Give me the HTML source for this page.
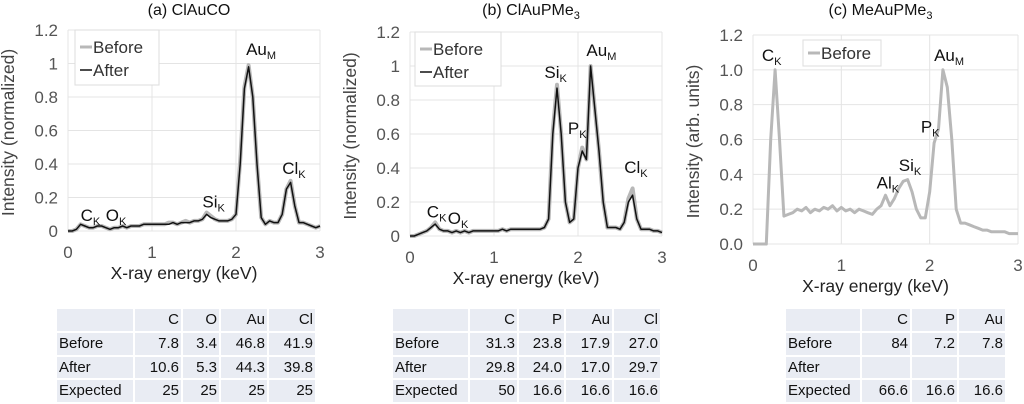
<!DOCTYPE html>
<html><head><meta charset="utf-8">
<style>
body{margin:0;width:1024px;height:404px;background:#fff;font-family:"Liberation Sans",sans-serif;overflow:hidden;position:relative}
svg{position:absolute;left:0;top:0}
.cell{position:absolute;background:#e9ecf3;font-size:15px;color:#111;line-height:21px;box-sizing:border-box;padding:0 2px;text-align:right;white-space:nowrap}
.lbl{text-align:left}
</style></head><body>
<svg id="chart" width="1024" height="300"></svg>
<div id="tables"></div>
<script>
const energies=[0,0.05,0.1,0.15,0.2,0.25,0.3,0.35,0.4,0.45,0.5,0.55,0.6,0.65,0.7,0.75,0.8,0.85,0.9,0.95,1.0,1.05,1.1,1.15,1.2,1.25,1.3,1.35,1.4,1.45,1.5,1.55,1.6,1.65,1.7,1.75,1.8,1.85,1.9,1.95,2.0,2.05,2.1,2.15,2.2,2.25,2.3,2.35,2.4,2.45,2.5,2.55,2.6,2.65,2.7,2.75,2.8,2.85,2.9,2.95,3.0];
const aBefore=[0,0,0.01,0.04,0.03,0.02,0.02,0.03,0.03,0.02,0.01,0.02,0.02,0.03,0.02,0.03,0.03,0.03,0.04,0.04,0.04,0.04,0.04,0.04,0.05,0.05,0.04,0.05,0.06,0.05,0.06,0.06,0.07,0.11,0.09,0.07,0.06,0.06,0.06,0.07,0.1,0.42,0.86,0.99,0.8,0.4,0.08,0.04,0.06,0.05,0.05,0.1,0.25,0.3,0.15,0.05,0.05,0.04,0.03,0.02,0.03];
const aAfter=[0,0,0.01,0.04,0.03,0.02,0.02,0.03,0.03,0.02,0.01,0.02,0.02,0.03,0.02,0.03,0.03,0.03,0.04,0.04,0.04,0.04,0.04,0.04,0.04,0.05,0.04,0.05,0.05,0.05,0.06,0.06,0.07,0.1,0.08,0.07,0.06,0.06,0.06,0.07,0.1,0.4,0.85,0.98,0.8,0.4,0.08,0.04,0.06,0.05,0.05,0.1,0.25,0.29,0.15,0.05,0.05,0.04,0.03,0.02,0.03];
const bBefore=[0,0,0.01,0.02,0.03,0.05,0.08,0.04,0.03,0.03,0.02,0.03,0.02,0.03,0.02,0.03,0.03,0.03,0.03,0.03,0.03,0.03,0.04,0.03,0.04,0.04,0.04,0.04,0.04,0.04,0.04,0.04,0.05,0.1,0.62,0.89,0.6,0.2,0.08,0.1,0.4,0.52,0.45,1.0,0.75,0.5,0.2,0.05,0.05,0.05,0.04,0.08,0.22,0.28,0.1,0.04,0.04,0.04,0.03,0.03,0.02];
const bAfter=[0,0,0.01,0.02,0.03,0.05,0.07,0.04,0.03,0.03,0.02,0.03,0.02,0.03,0.02,0.03,0.03,0.03,0.03,0.03,0.03,0.03,0.04,0.03,0.04,0.04,0.04,0.04,0.04,0.04,0.04,0.04,0.05,0.1,0.6,0.87,0.6,0.2,0.08,0.1,0.4,0.5,0.45,1.0,0.75,0.5,0.2,0.05,0.05,0.05,0.04,0.08,0.2,0.24,0.1,0.04,0.04,0.04,0.03,0.03,0.02];
const cBefore=[0,0,0,0,0.6,1.0,0.6,0.16,0.17,0.18,0.2,0.19,0.21,0.18,0.2,0.19,0.21,0.2,0.22,0.19,0.21,0.19,0.2,0.18,0.2,0.19,0.18,0.17,0.2,0.22,0.28,0.22,0.26,0.32,0.36,0.37,0.3,0.2,0.15,0.15,0.3,0.58,0.66,1.0,0.9,0.6,0.2,0.12,0.12,0.11,0.1,0.09,0.08,0.08,0.07,0.07,0.07,0.07,0.06,0.06,0.06];
const yTicksAB=["0","0.2","0.4","0.6","0.8","1","1.2"];
const yTicksC=["0.0","0.2","0.4","0.6","0.8","1.0","1.2"];
const xTicks=["0","1","2","3"];

const NS="http://www.w3.org/2000/svg";
const svg=document.getElementById('chart');
function mk(tag,attrs,parent){const e=document.createElementNS(NS,tag);for(const k in attrs)e.setAttribute(k,attrs[k]);(parent||svg).appendChild(e);return e;}

const charts=[
 {id:'a',x0:68,x1:320,y0:231,y1:30,title:'(a) ClAuCO',ytitle:'Intensity (normalized)',yt:yTicksAB,series:[[aBefore,'#b8b8b8',4,'before'],[aAfter,'#111',1.5,'after']],legend:[75,30,84,55,true],
  ann:[['C','K',0.15,0.06],['O','K',0.45,0.06],['Si','K',1.6,0.14],['Au','M',2.12,1.05],['Cl','K',2.55,0.34]]},
 {id:'b',x0:410,x1:662,y0:236,y1:32,title:'(b) ClAuPMe',sub:'3',ytitle:'Intensity (normalized)',yt:yTicksAB,series:[[bBefore,'#b8b8b8',4,'before'],[bAfter,'#111',1.5,'after']],legend:[415,32,86,54,true],
  ann:[['C','K',0.2,0.11],['O','K',0.45,0.07],['Si','K',1.6,0.93],['P','K',1.88,0.6],['Au','M',2.1,1.06],['Cl','K',2.55,0.37]]},
 {id:'c',x0:753,x1:1018,y0:244,y1:35,title:'(c) MeAuPMe',sub:'3',ytitle:'Intensity (arb. units)',yt:yTicksC,series:[[cBefore,'#b8b8b8',3,'before']],legend:[803,40,78,26,false],
  ann:[['C','K',0.1,1.05],['Al','K',1.4,0.32],['Si','K',1.65,0.42],['P','K',1.9,0.64],['Au','M',2.05,1.05]]}
];
charts.forEach(c=>{
  const g=mk('g',{});
  
  
  const X=v=>c.x0+(c.x1-c.x0)*v/3, Y=v=>c.y0+(c.y1-c.y0)*v/1.2;
  c.yt.forEach((t,i)=>{const v=i*0.2;
    const l=mk('line',{x1:c.x0,x2:c.x1,y1:Y(v),y2:Y(v),stroke:'#e4e4e4'},g);
    
    const tx=mk('text',{x:c.x0-10,y:Y(v)+6,'text-anchor':'end','font-size':17,fill:'#555'},g);tx.textContent=t;
    });
  xTicks.forEach((t,i)=>{
    const l=mk('line',{x1:X(+t),x2:X(+t),y1:c.y0,y2:c.y1,stroke:'#e4e4e4'},g);
    
    const tx=mk('text',{x:X(+t),y:c.y0+27,'text-anchor':'middle','font-size':17,fill:'#555'},g);tx.textContent=t;
    });
  const tt=mk('text',{x:(c.x0+c.x1)/2-10,y:c.y0+48,'text-anchor':'middle','font-size':17.5,fill:'#222'},g);tt.textContent='X-ray energy (keV)';
  
  const yc=(c.y0+c.y1)/2+2;
  const yt=mk('text',{x:0,y:0,transform:`translate(${c.x0-54},${yc}) rotate(-90)`,'text-anchor':'middle','font-size':17.5,fill:'#444'},g);yt.textContent=c.ytitle;
  
  const ti=mk('text',{x:(c.x0+c.x1)/2-5,y:15,'text-anchor':'middle','font-size':16,fill:'#111'},g);ti.textContent=c.title;
  if(c.sub){const s=mk('tspan',{'font-size':11,dy:4},ti);s.textContent=c.sub;}
  
  c.series.forEach(s=>{
    const d=s[0].map((v,i)=>(i?'L':'M')+X(energies[i]).toFixed(1)+','+Y(v).toFixed(1)).join(' ');
    const p=mk('path',{d:d,fill:'none',stroke:s[1],'stroke-width':s[2],'stroke-linejoin':'round'},g);
    });
  const L=c.legend;
  const lg=mk('g',{},g);
  mk('rect',{x:L[0],y:L[1],width:L[2],height:L[3],fill:'#fff',stroke:'#ddd'},lg);
  const rowY=L[4]?[L[1]+17,L[1]+40]:[L[1]+13];
  const names=['Before','After'];
  rowY.forEach((ry,i)=>{mk('line',{x1:L[0]+5,x2:L[0]+17,y1:ry,y2:ry,stroke:i?'#111':'#b8b8b8','stroke-width':i?1.5:3},lg);
    const t=mk('text',{x:L[0]+18,y:ry+6,'font-size':17,fill:'#333'},lg);t.textContent=names[i];
    });
  c.ann.forEach(a=>{const t=mk('text',{x:X(a[2]),y:Y(a[3]),'font-size':17,fill:'#111'},g);t.textContent=a[0];
    const s=mk('tspan',{'font-size':11,dy:4},t);s.textContent=a[1];
    });
});

const tables=[
 {cols:[[57,133],[135,181],[183,219],[221,267],[269,315]],rows:[['','C','O','Au','Cl'],['Before','7.8','3.4','46.8','41.9'],['After','10.6','5.3','44.3','39.8'],['Expected','25','25','25','25']]},
 {cols:[[393,468],[470,517],[519,564],[566,612],[614,660]],rows:[['','C','P','Au','Cl'],['Before','31.3','23.8','17.9','27.0'],['After','29.8','24.0','17.0','29.7'],['Expected','50','16.6','16.6','16.6']]},
 {cols:[[786,860],[862,910],[912,957],[959,1005]],rows:[['','C','P','Au'],['Before','84','7.2','7.8'],['After','','',''],['Expected','66.6','16.6','16.6']]}
];
const rowsY=[[309,331],[333,355],[357,378],[380,402]];
const T=document.getElementById('tables');
tables.forEach((tb,ti)=>{
  tb.rows.forEach((r,ri)=>r.forEach((v,ci)=>{
    const d=document.createElement('div');
    d.className='cell'+(ci===0?' lbl':'');
    const [l,rr]=tb.cols[ci],[t,b]=rowsY[ri];
    d.style.left=l+'px';d.style.width=(rr-l)+'px';d.style.top=t+'px';d.style.height=(b-t)+'px';
    d.textContent=v;
    
    
    T.appendChild(d);
  }));
});
</script>
</body></html>
